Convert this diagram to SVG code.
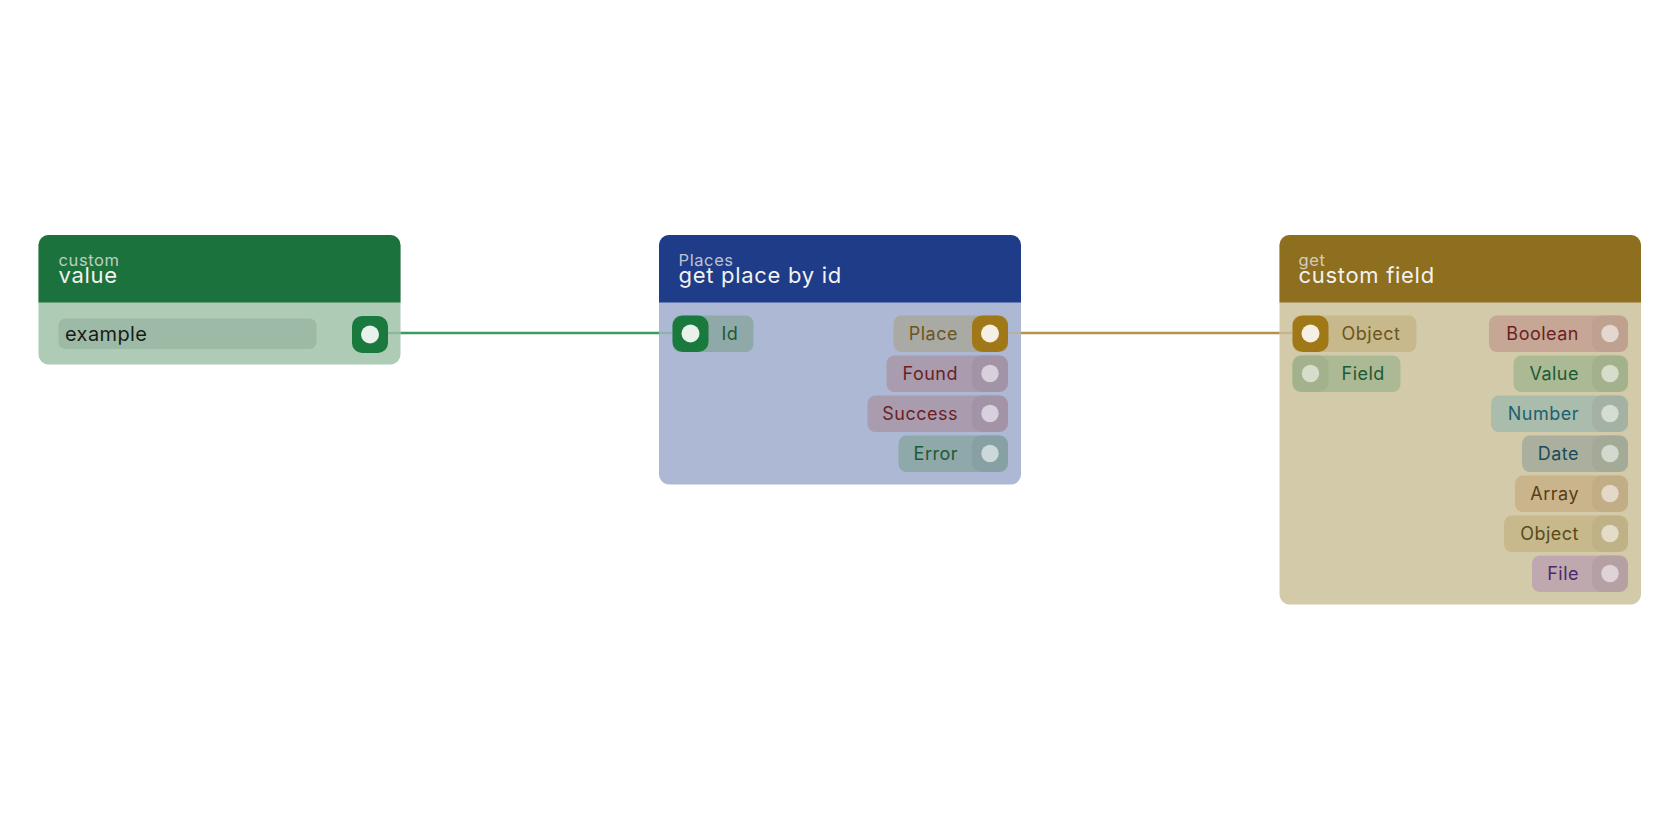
<svg xmlns="http://www.w3.org/2000/svg" width="1680" height="840" viewBox="0 0 1680 840">
<style>
text{font-family:Inter,"Noto Sans","Liberation Sans",sans-serif}
.sub{font-size:16.5px;letter-spacing:0.6px;fill:#e6e6e6;fill-opacity:0.8}
.title{font-size:22px;letter-spacing:0.7px;fill:#f2f2f2}
.lbl{font-size:18px;letter-spacing:0.5px}
.inp{font-size:20px;letter-spacing:0.4px}
.r{text-anchor:end}
</style>
<rect width="1680" height="840" fill="#ffffff"/>
<g id="connectors">
<line x1="388" y1="333" x2="672" y2="333" stroke="#3d9a60" stroke-width="2.4"/>
<line x1="1008" y1="333" x2="1292" y2="333" stroke="#b3924a" stroke-width="2.4"/>
</g>
<g id="node-custom-value">
<rect x="38.5" y="235" width="362" height="129.5" rx="10" fill="#aecbb6"/>
<path d="M38.5 302.5 V245 a10 10 0 0 1 10 -10 H390.5 a10 10 0 0 1 10 10 V302.5 Z" fill="#1c723c"/>
<text class="sub" x="58.5" y="265.5">custom</text>
<text class="title" x="58.5" y="282.5">value</text>
<rect x="58.5" y="318.5" width="258" height="30.5" rx="7" fill="#9dbaa7"/>
<text class="inp" x="65" y="340.5" fill="#1a1a1a">example</text>
<line x1="388" y1="333" x2="400.5" y2="333" stroke="#8cb99a" stroke-width="2.4"/>
<rect x="352" y="316" width="36" height="37" rx="10" fill="#1a7a3e"/>
<circle cx="370" cy="334.5" r="9" fill="#e8f1ea"/>
</g>
<g id="node-get-place-by-id">
<rect x="659" y="235" width="362" height="249.5" rx="10" fill="#adb9d4"/>
<path d="M659 302.5 V245 a10 10 0 0 1 10 -10 H1011 a10 10 0 0 1 10 10 V302.5 Z" fill="#1e3c87"/>
<text class="sub" x="678.5" y="265.5">Places</text>
<text class="title" x="678.5" y="282.5">get place by id</text>
<line x1="659" y1="333" x2="672" y2="333" stroke="#8fb0ad" stroke-width="2.4"/>
<line x1="1008" y1="333" x2="1021" y2="333" stroke="#b4b2a6" stroke-width="2.4"/>
<rect x="672.5" y="315.5" width="81" height="36.5" rx="8" fill="#8fa9a9"/>
<rect x="672.5" y="315.5" width="36" height="36.5" rx="10" fill="#1a7a3e"/>
<circle cx="690.5" cy="333.5" r="9" fill="#e8f1ea"/>
<text class="lbl" x="721.5" y="340" fill="#1b5a35">Id</text>
<rect x="893.5" y="315.5" width="114.5" height="36.5" rx="8" fill="#aaaaa4"/>
<rect x="972" y="315.5" width="36" height="36.5" rx="10" fill="#a07818"/>
<circle cx="990" cy="333.5" r="9" fill="#f6f0e4"/>
<text class="lbl r" x="958" y="340" fill="#6b5420">Place</text>
<rect x="886.5" y="355.5" width="121.5" height="36.5" rx="8" fill="#a99cae"/>
<rect x="972" y="355.5" width="36" height="36.5" rx="10" fill="#a294a6"/>
<circle cx="990" cy="373.5" r="8.7" fill="#d8d0dc"/>
<text class="lbl r" x="958" y="380" fill="#6b1f24">Found</text>
<rect x="867.5" y="395.5" width="140.5" height="36.5" rx="8" fill="#a99cae"/>
<rect x="972" y="395.5" width="36" height="36.5" rx="10" fill="#a294a6"/>
<circle cx="990" cy="413.5" r="8.7" fill="#d8d0dc"/>
<text class="lbl r" x="958" y="420" fill="#6b1f24">Success</text>
<rect x="898.5" y="435.5" width="109.5" height="36.5" rx="8" fill="#8fa8a9"/>
<rect x="972" y="435.5" width="36" height="36.5" rx="10" fill="#87a0a3"/>
<circle cx="990" cy="453.5" r="8.7" fill="#cdd8da"/>
<text class="lbl r" x="958" y="460" fill="#1b5a35">Error</text>
</g>
<g id="node-get-custom-field">
<rect x="1279.5" y="235" width="361.5" height="369.5" rx="10" fill="#d3caaa"/>
<path d="M1279.5 302.5 V245 a10 10 0 0 1 10 -10 H1631 a10 10 0 0 1 10 10 V302.5 Z" fill="#8e6f1f"/>
<text class="sub" x="1298.5" y="265.5">get</text>
<text class="title" x="1298.5" y="282.5">custom field</text>
<line x1="1279.5" y1="333" x2="1292" y2="333" stroke="#c6b48a" stroke-width="2.4"/>
<rect x="1292.5" y="315.5" width="124" height="36.5" rx="8" fill="#c7b98b"/>
<rect x="1292.5" y="315.5" width="36" height="36.5" rx="10" fill="#a07818"/>
<circle cx="1310.5" cy="333.5" r="9" fill="#f6f0e4"/>
<text class="lbl" x="1341.5" y="340" fill="#6b5420">Object</text>
<rect x="1292.5" y="355.5" width="108" height="36.5" rx="8" fill="#abb994"/>
<rect x="1292.5" y="355.5" width="36" height="36.5" rx="10" fill="#a3b18c"/>
<circle cx="1310.5" cy="373.5" r="8.7" fill="#d6ddcb"/>
<text class="lbl" x="1341.5" y="380" fill="#1b5a35">Field</text>
<rect x="1489" y="315.5" width="139" height="36.5" rx="8" fill="#c6a694"/>
<rect x="1592" y="315.5" width="36" height="36.5" rx="10" fill="#bfa190"/>
<circle cx="1610" cy="333.5" r="8.7" fill="#e4d7d0"/>
<text class="lbl r" x="1579" y="340" fill="#6b1f24">Boolean</text>
<rect x="1513.5" y="355.5" width="114.5" height="36.5" rx="8" fill="#abb994"/>
<rect x="1592" y="355.5" width="36" height="36.5" rx="10" fill="#a3b18c"/>
<circle cx="1610" cy="373.5" r="8.7" fill="#d6ddcb"/>
<text class="lbl r" x="1579" y="380" fill="#1b5a35">Value</text>
<rect x="1491" y="395.5" width="137" height="36.5" rx="8" fill="#aabcab"/>
<rect x="1592" y="395.5" width="36" height="36.5" rx="10" fill="#a3b2a2"/>
<circle cx="1610" cy="413.5" r="8.7" fill="#d4ddd0"/>
<text class="lbl r" x="1579" y="420" fill="#1d5f6e">Number</text>
<rect x="1522" y="435.5" width="106" height="36.5" rx="8" fill="#aab09d"/>
<rect x="1592" y="435.5" width="36" height="36.5" rx="10" fill="#a3aa98"/>
<circle cx="1610" cy="453.5" r="8.7" fill="#d4d9cf"/>
<text class="lbl r" x="1579" y="460" fill="#1d4a5a">Date</text>
<rect x="1515" y="475.5" width="113" height="36.5" rx="8" fill="#c9b48b"/>
<rect x="1592" y="475.5" width="36" height="36.5" rx="10" fill="#c1ad86"/>
<circle cx="1610" cy="493.5" r="8.7" fill="#e4d9c8"/>
<text class="lbl r" x="1579" y="500" fill="#5a3d14">Array</text>
<rect x="1504" y="515.5" width="124" height="36.5" rx="8" fill="#c7b98b"/>
<rect x="1592" y="515.5" width="36" height="36.5" rx="10" fill="#bfb286"/>
<circle cx="1610" cy="533.5" r="8.7" fill="#e4dcc8"/>
<text class="lbl r" x="1579" y="540" fill="#5a4a1a">Object</text>
<rect x="1532" y="555.5" width="96" height="36.5" rx="8" fill="#bfa9ae"/>
<rect x="1592" y="555.5" width="36" height="36.5" rx="10" fill="#b5a1a4"/>
<circle cx="1610" cy="573.5" r="8.7" fill="#ded3d6"/>
<text class="lbl r" x="1579" y="580" fill="#4a2a6e">File</text>
</g>
</svg>
